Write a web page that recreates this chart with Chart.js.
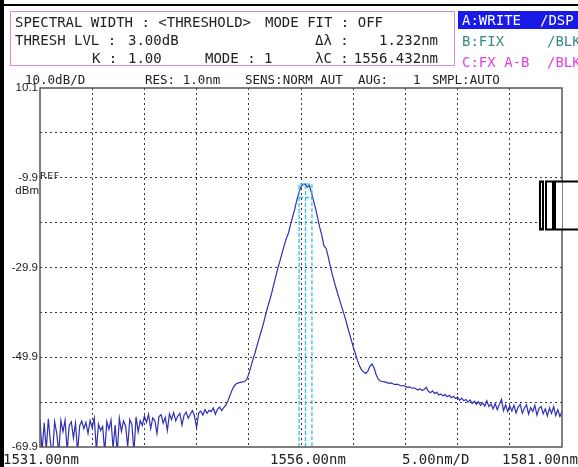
<!DOCTYPE html>
<html>
<head>
<meta charset="utf-8">
<script src="https://cdn.jsdelivr.net/npm/chart.js@4.4.1/dist/chart.umd.min.js"></script>
<style>
html, body { margin: 0; padding: 0; background: #fff; }
#wrap { position: relative; width: 578px; height: 467px; overflow: hidden; background: #fff; }
#osa { position: absolute; left: 0; top: 0; }
.t { position: absolute; font-family: 'DejaVu Sans Mono', 'Liberation Mono', monospace; font-size: 14px; line-height: 14px; color: #222; white-space: pre; }
.s { font-size: 12.5px; line-height: 13px; }
.box { position: absolute; border: 1.5px solid #d68ad6; }
</style>
</head>
<body>
<div id="wrap">
  <canvas id="osa" width="578" height="467"></canvas>

  <div style="position:absolute;left:0;top:0;width:4px;height:467px;background:#000"></div>
  <div style="position:absolute;left:0;top:4px;width:578px;height:2px;background:#000"></div>

  <div class="box" style="left:10px;top:11px;width:443px;height:53px"></div>
  <div class="t" style="left:15px;top:15px">SPECTRAL WIDTH : &lt;THRESHOLD&gt;</div>
  <div class="t" style="left:265px;top:15px">MODE FIT : OFF</div>
  <div class="t" style="left:15px;top:33px">THRESH LVL :</div>
  <div class="t" style="left:128px;top:33px">3.00dB</div>
  <div class="t" style="left:315px;top:33px">Δλ :</div>
  <div class="t" style="left:378px;top:33px;width:60px;text-align:right">1.232nm</div>
  <div class="t" style="left:92px;top:51px">K :</div>
  <div class="t" style="left:128px;top:51px">1.00</div>
  <div class="t" style="left:205px;top:51px">MODE : 1</div>
  <div class="t" style="left:315px;top:51px">λC :</div>
  <div class="t" style="left:350px;top:51px;width:88px;text-align:right">1556.432nm</div>

  <div style="position:absolute;left:458px;top:11px;width:120px;height:18px;background:#1a1ae8"></div>
  <div class="t" style="left:462px;top:13px;color:#fff">A:WRITE</div>
  <div class="t" style="left:540px;top:13px;color:#fff">/DSP</div>
  <div class="t" style="left:462px;top:34px;color:#3a8a8a">B:FIX</div>
  <div class="t" style="left:547px;top:34px;color:#3a8a8a">/BLK</div>
  <div class="t" style="left:462px;top:55px;color:#e040e0">C:FX A-B</div>
  <div class="t" style="left:547px;top:55px;color:#e040e0">/BLK</div>

  <div class="t s" style="left:25px;top:73px">10.0dB/D</div>
  <div class="t s" style="left:145px;top:73px">RES: 1.0nm</div>
  <div class="t s" style="left:245px;top:73px">SENS:NORM AUT</div>
  <div class="t s" style="left:358px;top:73px">AUG:</div>
  <div class="t s" style="left:413px;top:73px">1</div>
  <div class="t s" style="left:432px;top:73px">SMPL:AUTO</div>

  <div class="t" style="left:40px;top:171px;font-family:'DejaVu Sans',sans-serif;font-size:9.5px;line-height:10px;letter-spacing:0.6px;color:#222">REF</div>
  <div class="t" style="left:12px;top:184px;width:27px;text-align:right;font-family:'Liberation Sans',Arial,sans-serif;font-size:11.5px;line-height:12px;color:#1a1a1a">dBm</div>

  <div class="t" style="left:3px;top:452px">1531.00nm</div>
  <div class="t" style="left:270px;top:452px">1556.00nm</div>
  <div class="t" style="left:402px;top:452px">5.00nm/D</div>
  <div class="t" style="left:502px;top:452px">1581.00nm</div>
</div>

<script>
// sampling grid of the trace (nm)
const WL_START = 1531.0;
const WL_STEP = 0.2;

// measured level (dBm), 1531.0 .. 1548.8 nm
const LEVEL_LEFT = [
  -63.8, -71.0, -64.5, -70.5, -63.6, -68.9, -71.5, -64.2, -66.8, -71.2,
  -64.0, -66.5, -63.9, -70.8, -65.1, -64.3, -67.9, -64.6, -71.0, -65.2,
  -64.1, -65.8, -64.4, -66.9, -64.0, -65.6, -63.4, -70.6, -64.8, -66.2,
  -65.3, -71.0, -64.2, -66.0, -63.9, -70.2, -65.0, -71.3, -63.5, -66.4,
  -64.1, -65.2, -69.8, -63.8, -64.9, -71.0, -63.2, -66.5, -64.0, -65.1,
  -63.0, -64.4, -62.6, -65.8, -63.4, -64.0, -66.9, -63.1, -62.7, -64.6,
  -63.3, -66.2, -62.5, -63.8, -62.2, -64.1, -63.0, -62.4, -65.0, -62.8,
  -62.1, -63.5, -62.6, -61.8, -63.0, -65.6, -62.3, -61.9, -62.8, -61.6,
  -62.4, -61.7, -62.0, -61.2, -62.6, -61.5, -61.0, -61.8, -61.1, -60.6
];
// 1549.0 .. 1563.8 nm
const LEVEL_PEAK = [
  -59.6, -58.4, -57.2, -56.3, -55.8, -55.6, -55.5, -55.4, -55.3, -54.9,
  -53.6, -52.0, -50.4, -48.9, -47.2, -45.6, -44.0, -42.4, -40.5, -38.8,
  -37.2, -35.5, -33.6, -31.7, -29.9, -28.3, -26.6, -24.9, -23.4, -22.2,
  -20.3, -18.6, -16.9, -14.9, -13.2, -11.9, -11.4, -11.3, -12.0, -11.6,
  -13.2, -15.0, -16.8, -18.9, -21.0, -22.8, -25.1, -25.6, -27.4, -29.6,
  -31.5, -33.2, -34.8, -36.4, -37.9, -39.4, -40.9, -42.6, -44.3, -45.9,
  -47.6, -49.0, -50.6, -51.8, -52.7, -53.2, -53.5, -53.0, -51.9, -51.4,
  -52.3, -53.8, -54.8, -55.2, -55.3
];
// 1564.0 .. 1581.0 nm
const LEVEL_RIGHT = [
  -55.4, -55.5, -55.7, -55.6, -55.8, -56.0, -55.9, -56.1, -56.3, -56.2,
  -56.4, -56.6, -56.5, -56.8, -56.7, -56.9, -57.2, -56.9, -57.3, -57.1,
  -56.6, -57.5, -57.8, -57.4, -58.0, -57.7, -58.3, -58.1, -58.5, -58.2,
  -58.7, -58.4, -58.9, -58.6, -59.1, -58.8, -59.5, -59.0, -59.6, -59.3,
  -59.9, -59.4, -60.2, -59.7, -60.4, -59.8, -60.6, -60.1, -60.8, -59.6,
  -60.9, -60.3, -61.4, -60.2, -61.6, -60.4, -59.3, -61.8, -60.5, -62.0,
  -60.7, -61.9, -60.6, -62.3, -61.0, -60.4, -62.4, -61.2, -60.5, -62.6,
  -61.1, -62.0, -60.6, -62.8, -61.3, -60.9, -62.5, -61.4, -63.0, -61.2,
  -62.4, -60.9, -62.9, -61.6, -63.1, -62.0
];

const X_TICKS = [1531, 1536, 1541, 1546, 1551, 1556, 1561, 1566, 1571, 1576, 1581];
const Y_TICKS = [-69.9, -59.9, -49.9, -39.9, -29.9, -19.9, -9.9, 0.1, 10.1];
const Y_LABELED = [-69.9, -49.9, -29.9, -9.9, 10.1];

// threshold width analysis result
const CENTER_WL = 1556.432;
const WIDTH_NM = 1.232;
const PEAK_DBM = -11.3;
const THRESH_DB = 3.0;

const levels = LEVEL_LEFT.concat(LEVEL_PEAK, LEVEL_RIGHT);
const trace = levels.map((v, i) => ({ x: +(WL_START + i * WL_STEP).toFixed(1), y: v }));

const wlLeft = CENTER_WL - WIDTH_NM / 2;
const wlRight = CENTER_WL + WIDTH_NM / 2;
const yMin = Y_TICKS[0], yMax = Y_TICKS[Y_TICKS.length - 1];

const cyan = '#2cc4e4';
const markerStyle = {
  borderColor: cyan, borderWidth: 1.3, borderDash: [4, 2], pointRadius: 0,
  fill: false, tension: 0, order: 0
};

// frame of the plot and the bracket marker on the right edge
const framePlugin = {
  id: 'frame',
  afterDraw(chart) {
    const ctx = chart.ctx, a = chart.chartArea, ys = chart.scales.y;
    ctx.save();
    ctx.setLineDash([]);
    ctx.lineWidth = 1.5;
    ctx.strokeStyle = '#5a5550';
    ctx.strokeRect(a.left, a.top, a.right - a.left, a.bottom - a.top);

    const t = Math.round(ys.getPixelForValue(-10.6)) + 0.5;
    const b = Math.round(ys.getPixelForValue(-21.4)) + 0.5;
    ctx.lineWidth = 2;
    ctx.strokeStyle = '#000';
    ctx.fillStyle = '#fff';
    ctx.fillRect(a.right - 23, t, 23, b - t);
    ctx.strokeRect(a.right - 22, t, 3, b - t);
    ctx.strokeRect(a.right - 16, t, 7, b - t);
    ctx.beginPath();
    ctx.moveTo(chart.width + 2, t);
    ctx.lineTo(a.right - 7, t);
    ctx.lineTo(a.right - 7, b);
    ctx.lineTo(chart.width + 2, b);
    ctx.stroke();
    ctx.restore();
  }
};

new Chart(document.getElementById('osa'), {
  type: 'scatter',
  data: {
    datasets: [
      {
        label: 'A:WRITE',
        data: trace,
        showLine: true,
        borderColor: '#2e2eb6',
        borderWidth: 1.2,
        pointRadius: 0,
        tension: 0,
        order: 1
      },
      Object.assign({
        label: 'width',
        showLine: true,
        data: [
          { x: wlLeft, y: yMin }, { x: wlLeft, y: PEAK_DBM },
          { x: wlRight, y: PEAK_DBM }, { x: wlRight, y: yMin }
        ]
      }, markerStyle),
      Object.assign({
        label: 'center',
        showLine: true,
        data: [{ x: CENTER_WL, y: yMin }, { x: CENTER_WL, y: PEAK_DBM }]
      }, markerStyle),
      Object.assign({
        label: 'threshold',
        showLine: true,
        data: [{ x: wlLeft, y: PEAK_DBM - THRESH_DB }, { x: wlRight, y: PEAK_DBM - THRESH_DB }]
      }, markerStyle)
    ]
  },
  options: {
    responsive: false,
    animation: false,
    layout: { padding: { left: 0, top: 88, right: 16, bottom: 20 } },
    plugins: { legend: { display: false }, tooltip: { enabled: false } },
    scales: {
      x: {
        type: 'linear',
        min: X_TICKS[0],
        max: X_TICKS[X_TICKS.length - 1],
        afterBuildTicks: s => { s.ticks = X_TICKS.map(v => ({ value: v })); },
        afterFit: s => { s.height = 0; },
        ticks: { display: false },
        border: { display: false, dash: [2, 3] },
        grid: {
          drawTicks: false,
          lineWidth: 1,
          color: c => (c.index === 0 || c.index === X_TICKS.length - 1) ? 'rgba(0,0,0,0)' : '#3a3a3a'
        }
      },
      y: {
        type: 'linear',
        min: yMin,
        max: yMax,
        afterBuildTicks: s => { s.ticks = Y_TICKS.map(v => ({ value: v })); },
        afterFit: s => { s.width = 40; },
        ticks: {
          padding: 2,
          color: '#1a1a1a',
          font: { family: "'Liberation Sans', Arial, sans-serif", size: 11.5 },
          callback: v => Y_LABELED.some(l => Math.abs(l - v) < 1e-6) ? v.toFixed(1) : ''
        },
        border: { display: false, dash: [2, 3] },
        grid: {
          drawTicks: false,
          lineWidth: 1,
          color: c => (c.index === 0 || c.index === Y_TICKS.length - 1) ? 'rgba(0,0,0,0)' : '#3a3a3a'
        }
      }
    }
  },
  plugins: [framePlugin]
});
</script>
</body>
</html>
